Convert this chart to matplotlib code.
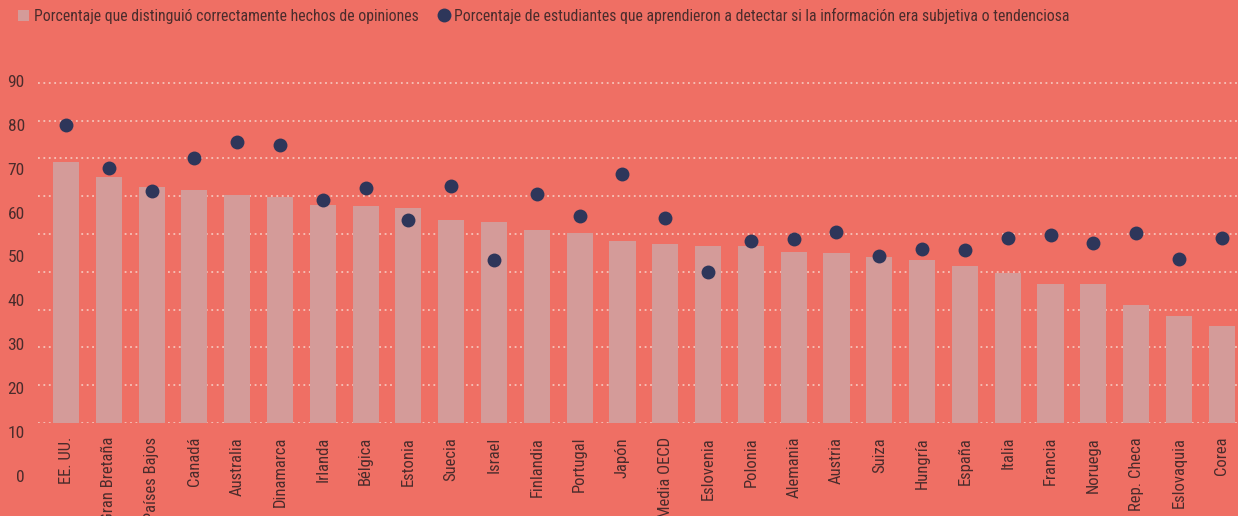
import matplotlib
matplotlib.use('Agg')
import matplotlib.pyplot as plt
from matplotlib import font_manager
from matplotlib.lines import Line2D
from matplotlib.patches import Patch
import numpy as np

# datos
paises = ["EE. UU.", "Gran Bretaña", "Países Bajos", "Canadá", "Australia",
          "Dinamarca", "Irlanda", "Bélgica", "Estonia", "Suecia", "Israel",
          "Finlandia", "Portugal", "Japón", "Media OECD", "Eslovenia", "Polonia",
          "Alemania", "Austria", "Suiza", "Hungría", "España", "Italia",
          "Francia", "Noruega", "Rep. Checa", "Eslovaquia", "Corea"]
distinguio = [69.1, 65.1, 62.4, 61.6, 60.3, 59.8, 57.7, 57.4, 56.9, 53.7, 53.2,
              51.1, 50.3, 48.1, 47.4, 46.8, 46.8, 45.2, 45.0, 43.9, 43.1, 41.5,
              39.7, 36.8, 36.8, 31.2, 28.3, 25.7]
aprendieron = [78.7, 67.5, 61.3, 70.2, 74.3, 73.5, 59.1, 62.1, 53.8, 62.8, 43.0,
               60.6, 54.7, 65.8, 54.3, 40.0, 48.1, 48.6, 50.4, 44.3, 46.1, 45.8,
               49.0, 49.7, 47.7, 50.2, 43.5, 48.9]
y_ticks = [0, 10, 20, 30, 40, 50, 60, 70, 80, 90]

BG = '#EF6F64'
BAR = '#D49B99'
DOT = '#2E365A'
TXT = '#4A2C2C'
GRID = '#F6C4BA'

# fuente condensada si existe
disponibles = {f.name for f in font_manager.fontManager.ttflist}
familia = ['DejaVu Sans']
for nombre in ['Liberation Sans Narrow', 'Roboto Condensed', 'DejaVu Sans Condensed']:
    if nombre in disponibles:
        familia = [nombre, 'DejaVu Sans']
        break
plt.rcParams['font.family'] = familia
plt.rcParams['font.size'] = 12

fig = plt.figure(figsize=(12.38, 5.16), dpi=100, facecolor=BG)
ax = fig.add_axes([0.0307, 0.1802, 0.9693, 0.7035])
ax.set_facecolor(BG)

x = np.arange(len(paises))
ax.bar(x, distinguio, width=0.61, color=BAR, zorder=2)
ax.scatter(x, aprendieron, s=100, color=DOT, zorder=3, linewidths=0)

ax.set_xlim(-0.654, 27.38)
ax.set_ylim(0, 96)

# rejilla punteada
ax.set_yticks(y_ticks)
ax.yaxis.grid(True, color=GRID, linestyle=(0, (1, 2)), linewidth=1.3)
ax.set_axisbelow(True)
ax.tick_params(axis='y', length=0, labelleft=False)

# etiquetas del eje y (en el original no coinciden con la rejilla)
for v in y_ticks:
    pos = 90 - (90 - v) * 43.8 / 37.8
    ax.text(-0.011, pos, str(v), transform=ax.get_yaxis_transform(),
            ha='right', va='center', color=TXT, fontsize=12.5, clip_on=False)

ax.set_xticks(x)
ax.set_xticklabels(paises, rotation=90, ha='center', va='top', color=TXT, fontsize=12)
ax.tick_params(axis='x', length=0, pad=10)

for s in ax.spines.values():
    s.set_visible(False)

handles = [Patch(facecolor=BAR, edgecolor='none'),
           Line2D([], [], marker='o', linestyle='none', markersize=10,
                  markerfacecolor=DOT, markeredgewidth=0)]
labels = ['Porcentaje que distinguió correctamente hechos de opiniones',
          'Porcentaje de estudiantes que aprendieron a detectar si la información era subjetiva o tendenciosa']
leg = fig.legend(handles, labels, loc='upper left', bbox_to_anchor=(0.003, 1.012),
                 ncol=2, frameon=False, fontsize=11.3, handlelength=0.7,
                 handleheight=0.7, handletextpad=0.3, columnspacing=1.3)
for t in leg.get_texts():
    t.set_color(TXT)

fig.savefig('out.png', dpi=100, facecolor=BG)
